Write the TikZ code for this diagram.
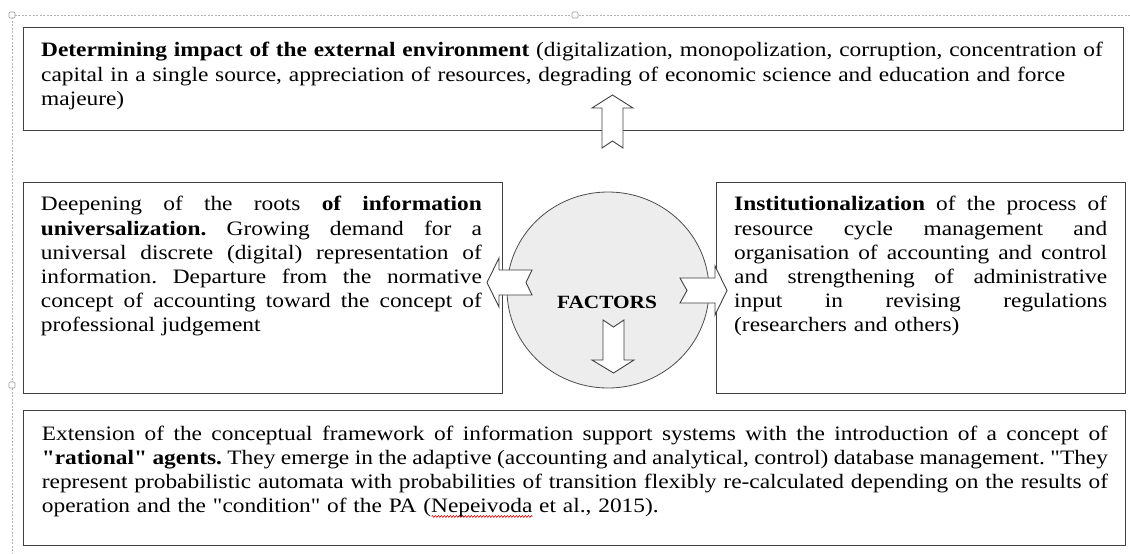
\documentclass[tikz,border=0pt]{standalone}
\usepackage{fontspec}
\setmainfont{Liberation Serif}[FakeStretch=1.14]
\newfontfamily\qfont{Liberation Serif}[FakeStretch=1.14]
\usetikzlibrary{decorations.pathmorphing,shapes.geometric}
\newlength\spellwd
\newcommand\spellerr[1]{\settowidth\spellwd{#1}\leavevmode\rlap{\tikz[x=1pt,y=1pt,baseline=0pt]\draw[red!85!black,line width=0.6pt,decorate,decoration={snake,amplitude=0.9pt,segment length=3pt}] (0,-3.6) -- (\spellwd,-3.6);}#1}
\newcommand\jline[2]{\makebox[#1][s]{\spaceskip=0pt\xspaceskip=0pt #2}}
\newcommand\dq{{\qfont\symbol{34}}}
\begin{document}
\begin{tikzpicture}[x=1pt,y=-1pt,
  box/.style={draw=black!75, line width=1.3pt, inner sep=0pt, anchor=north west},
  txt/.style={anchor=north west, inner sep=0pt, align=left, font=\fontsize{20.5}{24.2}\selectfont\frenchspacing},
  blockarrow/.style={draw=black!75, line width=0.9pt, fill=white, line join=miter},
  selframe/.style={draw=black!30, line width=0.6pt, dash pattern=on 2pt off 1.5pt},
  handle/.style={draw=black!40, fill=white, line width=0.6pt, rounded corners=1pt, minimum size=6pt, inner sep=0pt},
]
\useasboundingbox (0,0) rectangle (1130,554);
% selection frame
\coordinate (fa) at (12,15);
\coordinate (fb) at (1130,15);
\coordinate (fc) at (12,554);
\draw[selframe] (fb) -- (fa) -- (fc);
\node[handle] (h1) at (12,15) {};
\node[handle] (h2) at (575,15) {};
\node[handle] (h3) at (12,385) {};

% boxes
\node[box, minimum width=1100pt, minimum height=103pt] (topbox) at (23,27) {};
\node[box, minimum width=479pt, minimum height=211pt] (leftbox) at (23,182) {};
\node[box, minimum width=409pt, minimum height=211pt] (rightbox) at (716,182) {};
\node[box, minimum width=1102pt, minimum height=135pt] (botbox) at (23,410) {};

% circle
\node[draw=black!70, line width=0.8pt, fill=black!7, ellipse, minimum width=202pt, minimum height=196pt, inner sep=0pt] (circ) at (608,290) {};
\node[font=\fontsize{18.7}{20}\selectfont\bfseries, inner sep=0pt] (factors) at (607,302) {FACTORS};

% texts
\node[txt, text width=1080pt] (toptext) at (41,39.8) {\strut\textbf{Determining impact of the external environment} (digitalization, monopolization, corruption, concentration of\\
capital in a single source, appreciation of resources, degrading of economic science and education and force\\
majeure)};

\node[txt, text width=441pt] (lefttext) at (40.7,193.8) {\strut\jline{441pt}{Deepening of the roots \textbf{of information}}\\
\jline{441pt}{\textbf{universalization.} Growing demand for a}\\
\jline{441pt}{universal discrete (digital) representation of}\\
\jline{441pt}{information. Departure from the normative}\\
\jline{441pt}{concept of accounting toward the concept of}\\
professional judgement};

\node[txt, text width=373pt] (righttext) at (734,193.8) {\strut\jline{373pt}{\textbf{Institutionalization} of the process of}\\
\jline{373pt}{resource cycle management and}\\
\jline{373pt}{organisation of accounting and control}\\
\jline{373pt}{and strengthening of administrative}\\
\jline{373pt}{input in revising regulations}\\
(researchers and others)};

\node[txt, text width=1066pt] (bottext) at (41.7,423.1) {\strut\jline{1066pt}{Extension of the conceptual framework of information support systems with the introduction of a concept of}\\
\jline{1066pt}{\textbf{\dq rational\dq\ agents.} They emerge in the adaptive (accounting and analytical, control) database management. \dq They}\\
\jline{1066pt}{represent probabilistic automata with probabilities of transition flexibly re-calculated depending on the results of}\\
operation and the \dq condition\dq\ of the PA (\spellerr{Nepeivoda} et al., 2015).};

% block arrows
% up arrow
\draw[blockarrow] (612.5,95) -- (633,108) -- (623,108) -- (623,148) -- (612.5,141) -- (602,148) -- (602,108) -- (592,108) -- cycle;
% left arrow
\draw[blockarrow] (487,282.5) -- (499,258) -- (499,270) -- (532,270) -- (526,282.5) -- (532,295) -- (499,295) -- (499,307) -- cycle;
% right arrow
\draw[blockarrow] (727,290.5) -- (715,315) -- (715,303) -- (680,303) -- (687,290.5) -- (680,278) -- (715,278) -- (715,266) -- cycle;
% down arrow
\draw[blockarrow] (613.5,373) -- (634,360) -- (624,360) -- (624,320) -- (613.5,327) -- (603,320) -- (603,360) -- (592,360) -- cycle;
\end{tikzpicture}
\end{document}
